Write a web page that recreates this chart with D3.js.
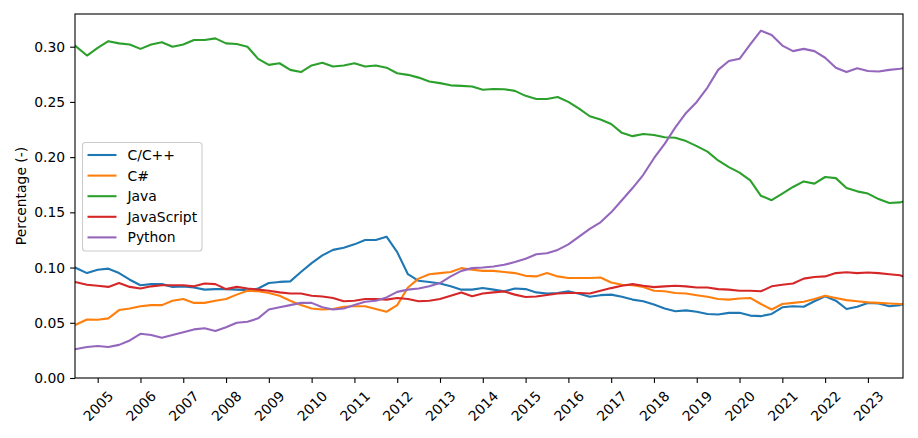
<!DOCTYPE html>
<html>
<head>
<meta charset="utf-8">
<script src="https://cdn.jsdelivr.net/npm/d3@7"></script>
<style>
  html, body { margin: 0; padding: 0; background: #fff; }
  svg { display: block; }
  text { font-family: "DejaVu Sans", sans-serif; }
</style>
</head>
<body>
<svg id="chart" width="918" height="438"></svg>
<script>
// ---- Data (quarterly readings, fractional years) ----
const years = [2004.47, ...d3.range(1, 78).map(i => 2004.5 + i * 0.25), 2023.82];

const seriesNames = ["C/C++", "C#", "Java", "JavaScript", "Python"];

const cpp = [
  0.100, 0.095,
  0.098, 0.099, 0.095, 0.089,
  0.084, 0.085, 0.085, 0.0825,
  0.083, 0.082, 0.080, 0.0805,
  0.0805, 0.080, 0.0795, 0.081,
  0.086, 0.087, 0.0875, 0.096,
  0.104, 0.111, 0.116, 0.118,
  0.121, 0.125, 0.125, 0.128,
  0.114, 0.094, 0.088, 0.087,
  0.0855, 0.083, 0.080, 0.080,
  0.0815, 0.080, 0.0785, 0.081,
  0.0805, 0.0775, 0.0765, 0.077,
  0.0785, 0.0763, 0.0735, 0.075,
  0.0755, 0.0735, 0.071, 0.0695,
  0.0665, 0.063, 0.0605, 0.0612,
  0.060, 0.058, 0.0575, 0.059,
  0.059, 0.0565, 0.056, 0.058,
  0.064, 0.065, 0.0645, 0.0695,
  0.074, 0.070, 0.0625, 0.0645,
  0.068, 0.0675, 0.065, 0.066,
  0.067
];

const csharp = [
  0.048, 0.053,
  0.0527, 0.054, 0.0615, 0.063,
  0.065, 0.066, 0.066, 0.070,
  0.0715, 0.068, 0.068, 0.070,
  0.0715, 0.0755, 0.079, 0.0785,
  0.077, 0.0745, 0.070, 0.066,
  0.063, 0.062, 0.0625, 0.0645,
  0.065, 0.065, 0.0625, 0.060,
  0.066, 0.082, 0.090, 0.094,
  0.095, 0.096, 0.0995, 0.098,
  0.097, 0.097, 0.096, 0.095,
  0.0925, 0.092, 0.095, 0.092,
  0.0905, 0.0905, 0.0905, 0.091,
  0.0865, 0.0845, 0.084, 0.0825,
  0.079, 0.0785, 0.077, 0.0765,
  0.075, 0.0735, 0.0715, 0.071,
  0.072, 0.0725, 0.067, 0.062,
  0.067, 0.068, 0.069, 0.0715,
  0.0745, 0.0725, 0.0705, 0.0695,
  0.0685, 0.068, 0.0675, 0.067,
  0.067
];

const java = [
  0.301, 0.292,
  0.299, 0.305, 0.303, 0.302,
  0.298, 0.302, 0.304, 0.300,
  0.302, 0.306, 0.306, 0.3075,
  0.303, 0.3025, 0.300, 0.289,
  0.2835, 0.285, 0.279, 0.277,
  0.283, 0.2855, 0.282, 0.283,
  0.285, 0.282, 0.283, 0.281,
  0.276, 0.2745, 0.272, 0.2685,
  0.267, 0.265, 0.2645, 0.264,
  0.261, 0.2617, 0.2615, 0.260,
  0.2555, 0.2527, 0.2527, 0.2545,
  0.250, 0.244, 0.237, 0.234,
  0.230, 0.222, 0.219, 0.221,
  0.220, 0.218, 0.2175, 0.2145,
  0.210, 0.205, 0.197, 0.191,
  0.186, 0.179, 0.165, 0.161,
  0.167, 0.173, 0.178, 0.176,
  0.182, 0.181, 0.172, 0.169,
  0.167, 0.162, 0.1585, 0.159,
  0.1598
];

const javascript = [
  0.087, 0.0845,
  0.0835, 0.0825, 0.086, 0.0825,
  0.081, 0.083, 0.084, 0.084,
  0.084, 0.083, 0.0855, 0.085,
  0.0805, 0.0825, 0.081, 0.080,
  0.079, 0.0775, 0.0765, 0.0765,
  0.0745, 0.0738, 0.0725, 0.0695,
  0.070, 0.0715, 0.0715, 0.071,
  0.0725, 0.0715, 0.0695, 0.070,
  0.0715, 0.0745, 0.0775, 0.074,
  0.0765, 0.0775, 0.0784, 0.0755,
  0.0733, 0.0738, 0.0752, 0.0765,
  0.077, 0.077, 0.0765, 0.079,
  0.0814, 0.0835, 0.085, 0.0835,
  0.0823, 0.083, 0.0835, 0.083,
  0.082, 0.082, 0.0805, 0.080,
  0.079, 0.079, 0.0785, 0.083,
  0.0845, 0.0855, 0.090, 0.0914,
  0.092, 0.095, 0.0958, 0.095,
  0.0955, 0.095, 0.094, 0.093,
  0.092
];

const python = [
  0.026, 0.028,
  0.029, 0.028, 0.030, 0.034,
  0.040, 0.039, 0.0365, 0.039,
  0.0415, 0.044, 0.045, 0.0425,
  0.046, 0.050, 0.051, 0.054,
  0.062, 0.064, 0.066, 0.068,
  0.068, 0.064, 0.062, 0.063,
  0.066, 0.069, 0.070, 0.073,
  0.078, 0.080, 0.081, 0.083,
  0.086, 0.092, 0.097, 0.0995,
  0.100, 0.101, 0.1025, 0.105,
  0.108, 0.112, 0.113, 0.116,
  0.121, 0.128, 0.135, 0.141,
  0.150, 0.161, 0.172, 0.184,
  0.199, 0.212, 0.227, 0.240,
  0.250, 0.263, 0.279, 0.287,
  0.289, 0.302, 0.3145, 0.3105,
  0.301, 0.296, 0.298, 0.296,
  0.290, 0.281, 0.277, 0.2805,
  0.278, 0.2775, 0.279, 0.280,
  0.2805
];

const yTicks = [0.00, 0.05, 0.10, 0.15, 0.20, 0.25, 0.30];
const xTickYears = d3.range(2005, 2024);
const yLabel = "Percentage (-)";
const colors = ["#1f77b4", "#ff7f0e", "#2ca02c", "#d62728", "#9467bd"];

// ---- Layout ----
const svg = d3.select("#chart");
const M = { left: 75, right: 903, top: 14, bottom: 378 };
const x = d3.scaleLinear().domain([2004.47, 2023.82]).range([M.left, M.right]);
const y = d3.scaleLinear().domain([0, 0.3296]).range([M.bottom, M.top]);

const seriesData = [cpp, csharp, java, javascript, python];

svg.append("clipPath").attr("id", "clip")
  .append("rect").attr("x", M.left).attr("y", M.top)
  .attr("width", M.right - M.left).attr("height", M.bottom - M.top);

const line = d3.line().x((d, i) => x(years[i])).y(d => y(d));

const g = svg.append("g").attr("clip-path", "url(#clip)");
seriesData.forEach((s, k) => {
  g.append("path").datum(s)
    .attr("d", line)
    .attr("fill", "none")
    .attr("stroke", colors[k])
    .attr("stroke-width", 2.1)
    .attr("stroke-linejoin", "round")
    .attr("stroke-linecap", "square");
});

// Axes
const fontSize = "13.9px";
const xAxis = d3.axisBottom(x).tickValues(xTickYears).tickSize(4.9).tickPadding(4.9).tickFormat(d3.format("d"));
const yAxis = d3.axisLeft(y).tickValues(yTicks).tickSize(4.9).tickPadding(4.9).tickFormat(d3.format(".2f"));

const gx = svg.append("g").attr("transform", `translate(0,${M.bottom})`).call(xAxis);
gx.select(".domain").remove();
gx.selectAll(".tick line").attr("stroke", "#000").attr("stroke-width", 1.1);
gx.selectAll(".tick text")
  .attr("fill", "#000")
  .style("font-size", fontSize)
  .attr("y", null).attr("dy", null)
  .attr("text-anchor", "middle")
  .attr("dominant-baseline", "central")
  .attr("transform", "translate(0,28) rotate(-45)");

const gy = svg.append("g").attr("transform", `translate(${M.left},0)`).call(yAxis);
gy.select(".domain").remove();
gy.selectAll(".tick line").attr("stroke", "#000").attr("stroke-width", 1.1);
gy.selectAll(".tick text").attr("fill", "#000").style("font-size", fontSize);

// Spines
svg.append("rect")
  .attr("x", M.left).attr("y", M.top)
  .attr("width", M.right - M.left).attr("height", M.bottom - M.top)
  .attr("fill", "none").attr("stroke", "#000").attr("stroke-width", 1.1);

// Y label
svg.append("text")
  .attr("transform", `translate(21,${(M.top + M.bottom) / 2}) rotate(-90)`)
  .attr("text-anchor", "middle")
  .attr("dominant-baseline", "central")
  .style("font-size", fontSize)
  .text(yLabel);

// Legend
const lg = svg.append("g");
lg.append("rect")
  .attr("x", 82.5).attr("y", 142.5).attr("width", 119.5).attr("height", 108.5)
  .attr("rx", 3).attr("fill", "#fff").attr("fill-opacity", 0.8)
  .attr("stroke", "#cccccc").attr("stroke-width", 1.1);
seriesNames.forEach((name, k) => {
  const yy = 155 + k * 20.6;
  lg.append("line").attr("x1", 87.5).attr("x2", 116.5).attr("y1", yy).attr("y2", yy)
    .attr("stroke", colors[k]).attr("stroke-width", 2.1);
  lg.append("text").attr("x", 127.5).attr("y", yy)
    .attr("dominant-baseline", "central")
    .style("font-size", fontSize).attr("fill", "#000")
    .text(name);
});
</script>
</body>
</html>
